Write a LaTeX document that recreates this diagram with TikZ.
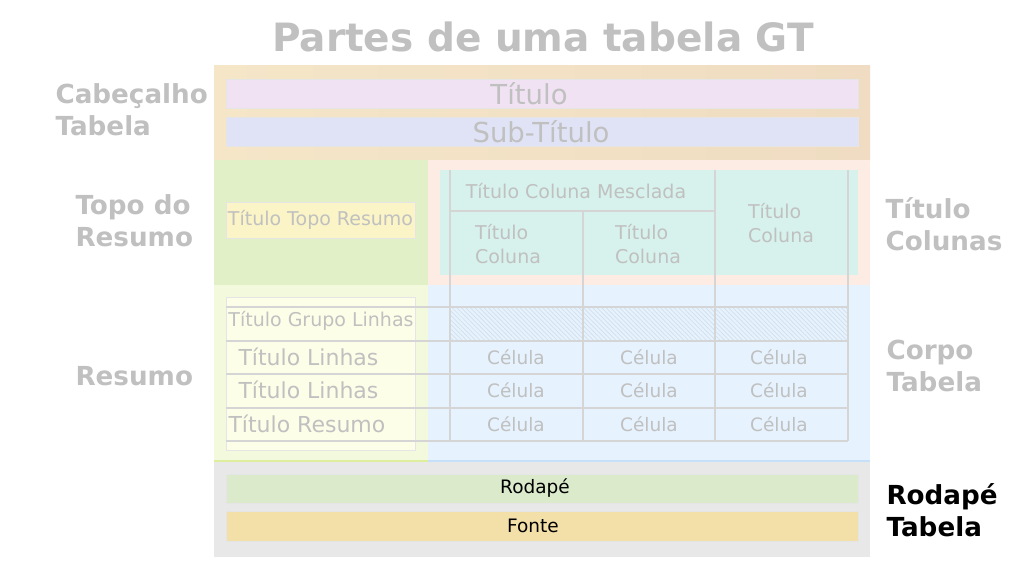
\documentclass[tikz,border=0pt]{standalone}
\usepackage{fontspec}
\setmainfont{DejaVu Sans}
\usetikzlibrary{positioning, patterns.meta}

\definecolor{labelgray}{HTML}{C0C0C0}
\definecolor{gridgray}{HTML}{D5D5D5}
\definecolor{headleft}{HTML}{F5E6C8}
\definecolor{headright}{HTML}{EFDCC2}
\definecolor{titlefill}{HTML}{F0E2F3}
\definecolor{subtitlefill}{HTML}{E0E3F5}
\definecolor{stubheadfill}{HTML}{E1F0C7}
\definecolor{collabelfill}{HTML}{FDECE3}
\definecolor{stubheadbox}{HTML}{FAF4C6}
\definecolor{colboxfill}{HTML}{D7F2EC}
\definecolor{stubfill}{HTML}{F2F9DC}
\definecolor{bodyfill}{HTML}{E6F2FD}
\definecolor{stubbox}{HTML}{FDFEE8}
\definecolor{footerfill}{HTML}{E8E8E8}
\definecolor{footnotefill}{HTML}{DBEACB}
\definecolor{sourcefill}{HTML}{F3DFA8}
\definecolor{hatchcol}{HTML}{D2E0EB}
\definecolor{stubedge}{HTML}{DDEE9C}
\definecolor{bodyedge}{HTML}{C5E0F8}

\begin{document}
\begin{tikzpicture}[x=1pt, y=-1pt,
    area/.style={inner sep=0pt, outer sep=0pt},
    bar/.style={area, draw=black!10, line width=0.6pt, text=labelgray},
    side/.style={font=\bfseries\fontsize{26.2}{32}\selectfont, text=labelgray, align=left, anchor=west},
    cell/.style={font=\fontsize{18.5}{20}\selectfont, text=labelgray},
    grid/.style={draw=gridgray, line width=1.5pt}]
    \useasboundingbox[fill=white] (0,0) rectangle (1025,566);

    % areas
    \node[area, left color=headleft, right color=headright,
          minimum width=656, minimum height=95]                  (header)    at (542,112.5) {};
    \node[area, fill=stubheadfill, minimum width=214, minimum height=125] (stubhead)  at (321,222.5) {};
    \node[area, fill=collabelfill, minimum width=442, minimum height=125] (collabels) at (649,222.5) {};
    \node[area, fill=stubfill, minimum width=214, minimum height=176]     (stub)      at (321,373) {};
    \node[area, fill=bodyfill, minimum width=442, minimum height=176]     (body)      at (649,373) {};
    \node[area, fill=footerfill, minimum width=656, minimum height=96]    (footer)    at (542,509) {};
    \draw[stubedge, line width=1.5pt] (stub.south west) -- (stub.south east);
    \draw[bodyedge, line width=1.5pt] (body.south west) -- (body.south east);

    % bars
    \node[bar, fill=titlefill, minimum width=632, minimum height=29]    (title)     at (542,93.5) {};
    \node[bar, fill=subtitlefill, minimum width=632, minimum height=29] (subtitle)  at (542,131.5) {};
    \node[text=labelgray, font=\fontsize{27.5}{30}\selectfont] at (529,93.5)  {Título};
    \node[text=labelgray, font=\fontsize{27.5}{30}\selectfont] at (541,131.5) {Sub-Título};
    \node[bar, fill=stubheadbox, minimum width=189, minimum height=36,
          font=\fontsize{19}{20}\selectfont]                       (toplabel)  at (320.5,220) {Título Topo Resumo};
    \node[bar, fill=colboxfill, draw=none, minimum width=418, minimum height=105] (colbox) at (649,222.5) {};
    \node[bar, fill=stubbox, minimum width=189, minimum height=153]  (stubbox)   at (320.5,373.5) {};
    \node[bar, fill=footnotefill, minimum width=632, minimum height=29] (footnote) at (542,488.5) {};
    \node[bar, fill=sourcefill, minimum width=632, minimum height=30]   (source)   at (542,526) {};
    \node[font=\fontsize{18.5}{20}\selectfont] at (535,488.5) {Rodapé};
    \node[font=\fontsize{18.5}{20}\selectfont] at (533,526)   {Fonte};

    % hatched group row
    \fill[pattern={Lines[angle=-45, distance=3.2pt, line width=0.7pt]}, pattern color=hatchcol]
        (450,307) rectangle (848,341);

    % grid
    \foreach \x in {450,715,848}
        \draw[grid] (\x,170) -- (\x,441);
    \draw[grid] (583,211) -- (583,441);
    \foreach \y in {307,341,374,408,441}
        \draw[grid] (226,\y) -- (848,\y);
    \draw[grid] (450,211) -- (715,211);

    % column labels
    \node[cell, font=\fontsize{19}{20}\selectfont]              (spanner) at (576,191) {Título Coluna Mesclada};
    \node[cell, align=left, font=\fontsize{19}{24}\selectfont]  (col 1)   at (508,244) {Título\\Coluna};
    \node[cell, align=left, font=\fontsize{19}{24}\selectfont]  (col 2)   at (648,244) {Título\\Coluna};
    \node[cell, align=left, font=\fontsize{19}{24}\selectfont]  (col 3)   at (781,223) {Título\\Coluna};

    % stub
    \node[cell, font=\fontsize{19}{20}\selectfont]              (group)   at (321,321) {Título Grupo Linhas};
    \node[cell, anchor=west, font=\fontsize{22}{24}\selectfont] (row 1)   at (235,357) {Título Linhas};
    \node[cell, anchor=west, font=\fontsize{22}{24}\selectfont] (row 2)   at (235,390) {Título Linhas};
    \node[cell, anchor=west, font=\fontsize{22}{24}\selectfont] (summary) at (225,424) {Título Resumo};

    % cells
    \foreach \y [count=\r] in {357,390,424}
        \foreach \x [count=\c] in {516,649,779}
            \node[cell] (cell \r-\c) at (\x,\y) {Célula};

    % side labels
    \node[font=\bfseries\fontsize{39}{40}\selectfont, text=labelgray] (heading) at (543,37) {Partes de uma tabela GT};
    \node[side] (lab header)   at (52,110)  {Cabeçalho\\Tabela};
    \node[side] (lab stubhead) at (72,221)  {Topo do\\Resumo};
    \node[side] (lab stub)     at (72,376)  {Resumo};
    \node[side] (lab columns)  at (882,224) {Título\\Colunas};
    \node[side] (lab body)     at (883,366) {Corpo\\Tabela};
    \node[side, text=black] (lab footer) at (883,510) {Rodapé\\Tabela};
\end{tikzpicture}
\end{document}
